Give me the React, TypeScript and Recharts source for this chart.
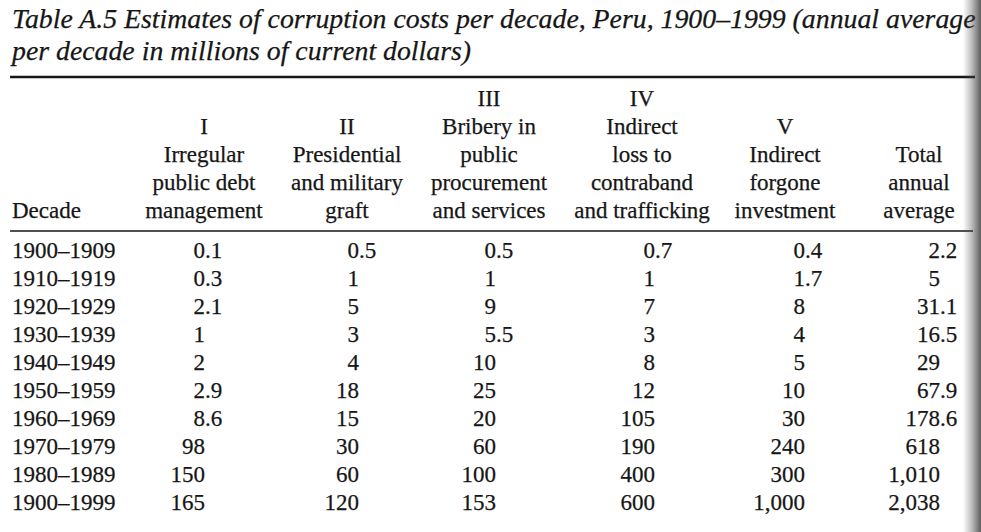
import React from 'react';
import { ScatterChart, Scatter, XAxis, YAxis, Label } from 'recharts';

// ---------- data ----------
const decades = [
  '1900–1909', '1910–1919', '1920–1929', '1930–1939', '1940–1949',
  '1950–1959', '1960–1969', '1970–1979', '1980–1989', '1900–1999',
];
const irregularDebt = [0.1, 0.3, 2.1, 1, 2, 2.9, 8.6, 98, 150, 165];
const presidentialGraft = [0.5, 1, 5, 3, 4, 18, 15, 30, 60, 120];
const briberyProcurement = [0.5, 1, 9, 5.5, 10, 25, 20, 60, 100, 153];
const contrabandLoss = [0.7, 1, 7, 3, 8, 12, 105, 190, 400, 600];
const forgoneInvestment = [0.4, 1.7, 8, 4, 5, 10, 30, 240, 300, 1000];
const totalAnnualAverage = [2.2, 5, 31.1, 16.5, 29, 67.9, 178.6, 618, 1010, 2038];

const columnNumerals = ['I', 'II', 'III', 'IV', 'V', ''];
const columnLabels = [
  ['Irregular', 'public debt', 'management'],
  ['Presidential', 'and military', 'graft'],
  ['Bribery in', 'public', 'procurement', 'and services'],
  ['Indirect', 'loss to', 'contraband', 'and trafficking'],
  ['Indirect', 'forgone', 'investment'],
  ['Total', 'annual', 'average'],
];
const rowHeader = 'Decade';
const titleLines = [
  'Table A.5 Estimates of corruption costs per decade, Peru, 1900–1999 (annual average',
  'per decade in millions of current dollars)',
];

const columns = [
  irregularDebt,
  presidentialGraft,
  briberyProcurement,
  contrabandLoss,
  forgoneInvestment,
  totalAnnualAverage,
];

// ---------- layout ----------
const W = 981;
const H = 532;
const PLOT_LEFT = 10;
const PLOT_RIGHT = 973;
const HEADER_RULE_Y = 231;
const BOTTOM_RULE_Y = 521;
const HEADER_X = [204, 347, 489, 642, 785, 919];
const DECIMAL_X = [205, 359, 496, 655, 805, 940];
const HEADER_LAST_BASELINE = 218;
const LINE_H = 28;
const FONT = '"Liberation Serif", "Times New Roman", serif';
const INK = '#161616';
const INK_STROKE = 0.25;
const BODY_SIZE = 23;
const TITLE_SIZE = 27.8;

const fmt = (v: number) => v.toLocaleString('en-US', { maximumFractionDigits: 1 });

const seriesData = columns.map((col, j) =>
  decades.map((d, i) => ({ decade: d, x: DECIMAL_X[j], v: col[i] }))
);

const textStyle = {
  fontFamily: FONT,
  fontSize: BODY_SIZE,
  fill: INK,
  stroke: INK,
  strokeWidth: INK_STROKE,
};

const DecimalCell = (props: any) => {
  const { cx, cy, payload } = props;
  if (cx == null || cy == null) return null;
  const s = fmt(payload.v);
  const [ip, fp] = s.split('.');
  return (
    <text y={cy + 8} {...textStyle}>
      <tspan x={cx} textAnchor="end">{ip}</tspan>
      {fp !== undefined && (
        <tspan x={cx} textAnchor="start">{'.' + fp}</tspan>
      )}
    </text>
  );
};

const HeaderTick = (props: any) => {
  const { x, payload } = props;
  const idx = HEADER_X.indexOf(payload.value);
  if (idx < 0) return null;
  const lines = [columnNumerals[idx], ...columnLabels[idx]].filter((t) => t !== '');
  const n = lines.length;
  return (
    <g>
      {lines.map((t, k) => (
        <text
          key={k}
          x={x}
          y={HEADER_LAST_BASELINE - (n - 1 - k) * LINE_H}
          textAnchor="middle"
          {...textStyle}
        >
          {t}
        </text>
      ))}
    </g>
  );
};

const DecadeTick = (props: any) => {
  const { y, payload } = props;
  return (
    <text x={12} y={y + 8} textAnchor="start" {...textStyle}>
      {payload.value}
    </text>
  );
};

const TitleBlock = () => (
  <g>
    <text x={12} y={28} {...textStyle} fontStyle="italic" fontSize={TITLE_SIZE}>
      {titleLines[0]}
    </text>
    <text x={12} y={60} {...textStyle} fontStyle="italic" fontSize={TITLE_SIZE}>
      {titleLines[1]}
    </text>
    <line x1={PLOT_LEFT} x2={PLOT_RIGHT + 2} y1={77} y2={77} stroke={INK} strokeWidth={2.6} />
  </g>
);

const RowHeaderLabel = () => (
  <text x={12} y={HEADER_LAST_BASELINE} textAnchor="start" {...textStyle}>
    {rowHeader}
  </text>
);

export default function App() {
  return (
    <div style={{ position: 'absolute', left: 0, top: 0, width: W, height: H, background: '#ffffff' }}>
      <ScatterChart
        width={W}
        height={H}
        margin={{ top: 0, right: W - PLOT_RIGHT, bottom: H - BOTTOM_RULE_Y, left: 0 }}
      >
        <XAxis
          xAxisId="top"
          orientation="top"
          type="number"
          dataKey="x"
          domain={[PLOT_LEFT, PLOT_RIGHT]}
          ticks={HEADER_X}
          interval={0}
          tick={<HeaderTick />}
          tickLine={false}
          axisLine={{ stroke: INK, strokeWidth: 1.6 }}
          height={HEADER_RULE_Y}
        >
          <Label content={<TitleBlock />} />
        </XAxis>
        <XAxis
          xAxisId="bottom"
          orientation="bottom"
          type="number"
          domain={[PLOT_LEFT, PLOT_RIGHT]}
          tick={false}
          tickLine={false}
          axisLine={{ stroke: INK, strokeWidth: 2 }}
          height={0}
        />
        <YAxis
          type="category"
          dataKey="decade"
          reversed
          allowDuplicatedCategory={false}
          interval={0}
          width={PLOT_LEFT}
          padding={{ top: 5, bottom: 5 }}
          tick={<DecadeTick />}
          tickLine={false}
          axisLine={false}
        >
          <Label content={<RowHeaderLabel />} />
        </YAxis>
        {seriesData.map((data, j) => (
          <Scatter
            key={j}
            xAxisId="top"
            data={data}
            shape={<DecimalCell />}
            isAnimationActive={false}
          />
        ))}
      </ScatterChart>
      <div
        style={{
          position: 'absolute',
          right: 0,
          top: 0,
          width: 18,
          height: H,
          background:
            'linear-gradient(to right, rgba(80,80,80,0) 0%, rgba(80,80,80,0.35) 45%, rgba(40,40,40,0.75) 100%)',
          pointerEvents: 'none',
        }}
      />
    </div>
  );
}
